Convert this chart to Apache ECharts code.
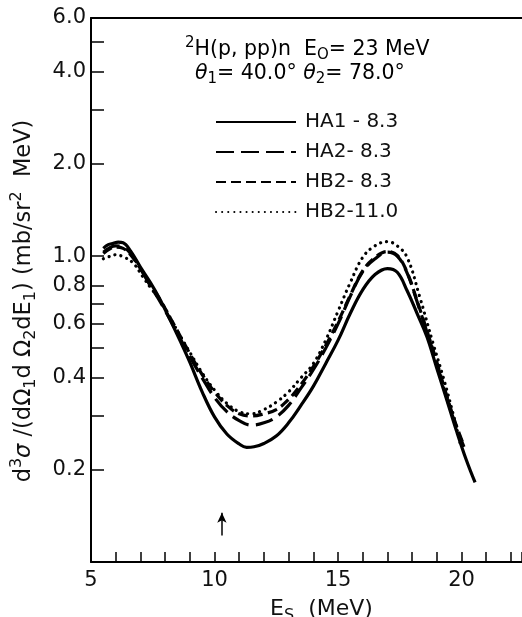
<!DOCTYPE html>
<html>
<head>
<meta charset="utf-8">
<script src="https://cdn.jsdelivr.net/npm/echarts@6/dist/echarts.min.js"></script>
<style>
html, body { margin: 0; padding: 0; background: #fff; }
#chart { width: 522px; height: 617px; }
</style>
</head>
<body>
<div id="chart"></div>
<script>
// curves, [Es (MeV), cross section]
var ha1 = [[5.5,1.06],[5.7,1.09],[5.9,1.10],[6.1,1.11],[6.3,1.105],[6.6,1.04],[7.0,0.92],[7.4,0.82],
    [7.8,0.72],[8.2,0.62],[8.6,0.53],[9.0,0.45],[9.5,0.36],[10.0,0.298],[10.5,0.262],[11.0,0.243],
    [11.3,0.237],[11.6,0.238],[12.0,0.244],[12.5,0.258],[13.0,0.285],[13.5,0.325],[14.0,0.375],
    [14.5,0.445],[15.0,0.53],[15.5,0.65],[16.0,0.775],[16.5,0.87],[17.0,0.91],[17.4,0.885],
    [17.8,0.77],[18.2,0.65],[18.6,0.545],[19.0,0.43],[19.4,0.34],[19.8,0.268],[20.2,0.215],[20.55,0.182]];
var ha2 = [[5.5,1.03],[5.8,1.07],[6.0,1.08],[6.3,1.07],[6.6,1.02],[7.0,0.91],[7.4,0.80],[7.8,0.71],
    [8.2,0.62],[8.6,0.54],[9.0,0.47],[9.5,0.40],[10.0,0.345],[10.5,0.31],[11.0,0.29],[11.5,0.28],
    [12.0,0.285],[12.5,0.298],[13.0,0.325],[13.5,0.37],[14.0,0.425],[14.5,0.50],[15.0,0.60],
    [15.5,0.74],[16.0,0.89],[16.5,0.98],[17.0,1.03],[17.4,1.0],[17.8,0.88],[18.2,0.71],
    [18.6,0.565],[19.0,0.445],[19.4,0.345],[19.8,0.275],[20.1,0.238]];
var hb2a = [[5.5,1.02],[5.8,1.06],[6.0,1.07],[6.3,1.06],[6.6,1.01],[7.0,0.91],[7.4,0.81],[7.8,0.72],
    [8.2,0.63],[8.6,0.55],[9.0,0.48],[9.5,0.41],[10.0,0.36],[10.5,0.325],[11.0,0.305],[11.5,0.30],
    [12.0,0.305],[12.5,0.315],[13.0,0.34],[13.5,0.38],[14.0,0.435],[14.5,0.51],[15.0,0.61],
    [15.5,0.745],[16.0,0.895],[16.5,0.99],[17.0,1.035],[17.4,1.005],[17.8,0.885],[18.2,0.715],
    [18.6,0.57],[19.0,0.45],[19.4,0.35],[19.8,0.278],[20.1,0.24]];
var hb2b = [[5.5,0.98],[5.8,1.0],[6.0,1.01],[6.3,0.995],[6.7,0.95],[7.1,0.855],[7.4,0.79],[7.8,0.717],
    [8.2,0.63],[8.6,0.55],[9.0,0.485],[9.5,0.415],[10.0,0.365],[10.5,0.33],[11.0,0.31],[11.5,0.305],
    [12.0,0.315],[12.5,0.333],[13.0,0.36],[13.5,0.40],[14.0,0.445],[14.5,0.53],[15.0,0.66],
    [15.5,0.82],[16.0,0.99],[16.5,1.08],[17.0,1.115],[17.4,1.08],[17.8,0.99],[18.3,0.74],
    [18.85,0.518],[19.26,0.402],[19.66,0.305],[19.96,0.242]];

var seriesNames = ['HA1 - 8.3', 'HA2- 8.3', 'HB2- 8.3', 'HB2-11.0'];
var yTickValues = [0.2, 0.3, 0.4, 0.5, 0.6, 0.7, 0.8, 1, 2, 3, 4, 5, 6];
var yLabelValues = [0.2, 0.4, 0.6, 0.8, 1, 2, 4, 6];
var xLabelValues = [5, 10, 15, 20];
var arrowLine = [[10.3, 0.122], [10.3, 0.145]];

var myChart = echarts.init(document.getElementById('chart'));
var font = 'DejaVu Sans';
var ink = '#111';

function richOf(size) {
    var small = Math.round(size * 0.72);
    var off = Math.round(size * 0.6);
    return {
        t: { fontFamily: font, fontSize: size, color: ink },
        it: { fontFamily: font, fontSize: size, fontStyle: 'italic', color: ink },
        sub: { fontFamily: font, fontSize: small, color: ink, padding: [off, 0, 0, 0] },
        sup: { fontFamily: font, fontSize: small, color: ink, padding: [0, 0, off, 0] }
    };
}

function lineSeries(name, data, lineStyle) {
    return {
        name: name,
        type: 'line',
        data: data,
        smooth: 0.4,
        showSymbol: false,
        symbol: 'none',
        itemStyle: { color: '#000' },
        lineStyle: lineStyle
    };
}

var s1 = lineSeries(seriesNames[0], ha1, { color: '#000', width: 3.2, type: 'solid' });
s1.markLine = {
    silent: true,
    symbol: ['none', 'arrow'],
    symbolSize: [7, 10],
    lineStyle: { color: '#000', width: 1.5, type: 'solid' },
    label: { show: false },
    data: [[{ coord: arrowLine[0] }, { coord: arrowLine[1] }]]
};

var option = {
    animation: false,
    backgroundColor: '#fff',
    grid: { left: 91, top: 18, right: 0, bottom: 55, outerBoundsMode: 'none', containLabel: false },
    legend: {
        orient: 'vertical',
        left: 215,
        top: 112,
        padding: 0,
        itemWidth: 80,
        itemHeight: 20,
        itemGap: 10,
        itemStyle: { opacity: 0 },
        textStyle: { fontFamily: font, fontSize: 20, color: ink, padding: [0, 0, 0, 4] },
        data: seriesNames
    },
    graphic: [
        {
            type: 'text', left: 185, top: 36,
            style: {
                text: '{sup|2}{t|H(p, pp)n  E}{sub|O}{t|= 23 MeV}',
                rich: richOf(20.5)
            }
        },
        {
            type: 'text', left: 195, top: 63,
            style: {
                text: '{it|θ}{sub|1}{t|= 40.0° }{it|θ}{sub|2}{t|= 78.0°}',
                rich: richOf(20.5)
            }
        }
    ],
    xAxis: [
        {
            type: 'value', min: 5, max: 22.45, interval: 1,
            name: '{t|E}{sub|S}{t|  (MeV)}',
            nameLocation: 'middle',
            nameGap: 33,
            nameTextStyle: { rich: richOf(22), padding: [0, 0, 0, 30] },
            axisLine: { lineStyle: { color: '#000', width: 2 } },
            axisTick: { inside: true, length: 10, lineStyle: { color: '#000', width: 1.5 } },
            axisLabel: {
                margin: 8, fontFamily: font, fontSize: 21, color: ink,
                formatter: function (v) { return xLabelValues.indexOf(v) >= 0 ? String(v) : ''; }
            },
            splitLine: { show: false }
        },
        {
            type: 'value', min: 5, max: 22.45, position: 'top',
            axisLine: { show: true, onZero: false, lineStyle: { color: '#000', width: 2 } },
            axisTick: { show: false },
            axisLabel: { show: false },
            splitLine: { show: false }
        }
    ],
    yAxis: {
        type: 'log', logBase: 10, min: 0.1, max: 6,
        name: '{t|d}{sup|3}{it|σ}{t| /(dΩ}{sub|1}{t|d Ω}{sub|2}{t|dE}{sub|1}{t|) (mb/sr}{sup|2}{t|  MeV)}',
        nameLocation: 'middle',
        nameRotate: 90,
        nameGap: 52,
        nameTextStyle: { rich: richOf(22.5), padding: [0, 22, 0, 0] },
        axisLine: { show: true, lineStyle: { color: '#000', width: 2 } },
        axisTick: { inside: true, length: 13, customValues: yTickValues, lineStyle: { color: '#000', width: 1.5 } },
        axisLabel: {
            margin: 5, fontFamily: font, fontSize: 21, color: ink,
            customValues: yLabelValues,
            formatter: function (v) { return Number(v).toFixed(1); }
        },
        splitLine: { show: false }
    },
    series: [
        s1,
        lineSeries(seriesNames[1], ha2, { color: '#000', width: 3.2, type: [18, 7] }),
        lineSeries(seriesNames[2], hb2a, { color: '#000', width: 3.2, type: [10, 5] }),
        lineSeries(seriesNames[3], hb2b, { color: '#000', width: 3.2, type: [0.1, 6], cap: 'round' })
    ]
};

myChart.setOption(option);
</script>
</body>
</html>
